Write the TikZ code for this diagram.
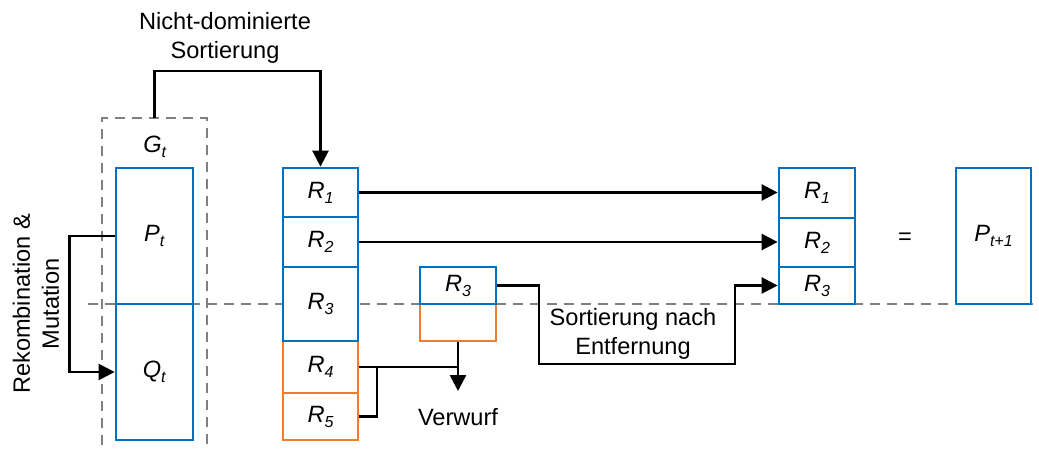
\documentclass[tikz,border=0pt]{standalone}
\usepackage{fontspec}
\setmainfont{Liberation Sans}
\usetikzlibrary{arrows.meta,calc}
\definecolor{boxblue}{HTML}{0070C0}
\definecolor{boxorange}{HTML}{ED7D31}
\definecolor{dashgrey}{HTML}{808080}
\newcommand\subx[2]{\textit{#1}\raisebox{-5pt}{\fontsize{16}{16}\selectfont\textit{#2}}}
\tikzset{
  every node/.style={font=\fontsize{23.6}{29}\selectfont},
  bbox/.style={draw=boxblue, line width=2.8pt, fill=white, inner sep=0pt},
  obox/.style={draw=boxorange, line width=2.8pt, fill=white, inner sep=0pt},
  conn/.style={draw=black, line width=2.6pt},
  arr/.style={conn, -{Triangle[length=16pt,width=16pt]}},
  grid/.style={draw=dashgrey, line width=2.6pt, dash pattern=on 10pt off 7pt},
  lbl/.style={align=center, inner sep=0pt}
}
\begin{document}
\begin{tikzpicture}[x=1pt,y=-1pt]
\useasboundingbox (0,0) rectangle (1039,452);
% dashed guides
\draw[grid] (102,445) -- (102,118) -- (207,118) -- (207,445);
\draw[grid] (88,304) -- (1033,304);
\coordinate (gtop) at (154.5,118);
\coordinate (lvl) at (0,71);
% G_t
\node[lbl] (gt) at (155,147) {\subx{G}{t}};
\node[bbox, minimum width=77pt, minimum height=136pt] (P) at (154.5,236) {\subx{P}{t}};
\node[bbox, minimum width=77pt, minimum height=136pt] (Q) at (154.5,372) {\subx{Q}{t}};
% R column
\node[obox, minimum width=75pt, minimum height=52pt] (R4) at (320.5,367) {\subx{R}{4}};
\node[obox, minimum width=75pt, minimum height=47pt] (R5) at (320.5,416.5) {\subx{R}{5}};
\node[bbox, minimum width=75pt, minimum height=49pt] (R1) at (320.5,192.5) {\subx{R}{1}};
\node[bbox, minimum width=75pt, minimum height=50pt] (R2) at (320.5,242) {\subx{R}{2}};
\node[bbox, minimum width=75pt, minimum height=74pt] (R3) at (320.5,304) {\subx{R}{3}};
% small split R3
\node[obox, minimum width=76pt, minimum height=37pt] (s4) at (458,322.5) {};
\node[bbox, minimum width=76pt, minimum height=37pt] (s3) at (458,285.5) {\subx{R}{3}};
% right column
\node[bbox, minimum width=76pt, minimum height=50pt] (T1) at (817,193) {\subx{R}{1}};
\node[bbox, minimum width=76pt, minimum height=49pt] (T2) at (817,242.5) {\subx{R}{2}};
\node[bbox, minimum width=76pt, minimum height=37pt] (T3) at (817,285.5) {\subx{R}{3}};
\node[lbl] (eq) at (905,239) {=};
\node[bbox, minimum width=75pt, minimum height=136pt] (Pn) at (993.5,236) {\subx{P}{t+1}};
% labels
\node[lbl] (nd) at (225,38) {Nicht-dominierte\\Sortierung};
\node[lbl, rotate=90] (rm) at (36,304) {Rekombination \&\\Mutation};
\node[lbl] (sn) at (633,334) {Sortierung nach\\Entfernung};
\node[lbl] (vw) at (458,417) {Verwurf};
% connectors
\draw[arr] (gtop) -- (gtop |- lvl) -| (R1.north);
\draw[arr] (P.west) -- ++(-45,0) |- (Q.west);
\draw[arr] (R1.east) -- (T1.west |- R1.east);
\draw[arr] (R2.east) -- (T2.west |- R2.east);
\coordinate (lowL) at (539,364);
\coordinate (lowR) at (735,364);
\draw[arr] (s3.east) -| (lowL) -- (lowR) |- (T3.west);
\coordinate (vend) at (458,391);
\coordinate (jn) at (377,367);
\draw[arr] (s4.south) -- (vend);
\draw[conn] (R4.east) -- (R4.east -| s4.south);
\draw[conn] (R5.east) -| (jn);
\end{tikzpicture}
\end{document}
